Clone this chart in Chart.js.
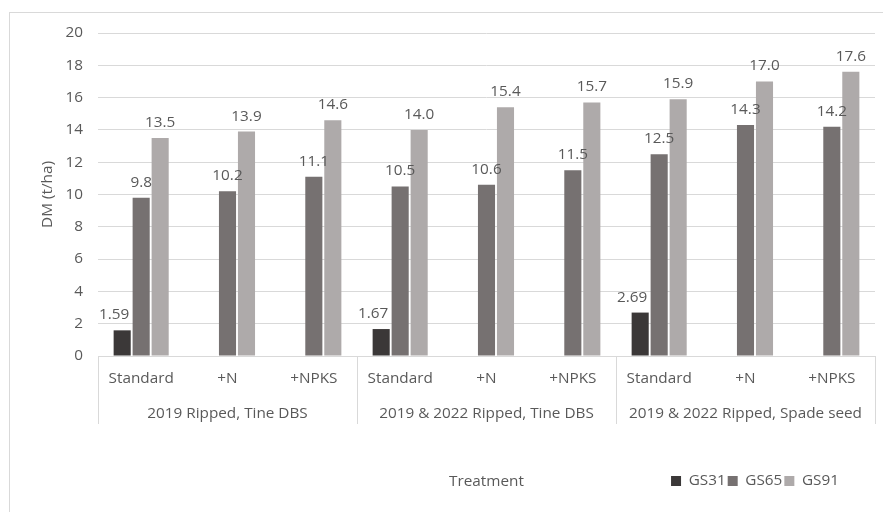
<!DOCTYPE html>
<html>
<head>
<meta charset="utf-8">
<script src="https://cdn.jsdelivr.net/npm/chart.js@4/dist/chart.umd.min.js"></script>
<style>
  html, body { margin: 0; padding: 0; background: #ffffff; overflow: hidden; }
  #frame { position: absolute; left: 9px; top: 12px; width: 900px; height: 520px; border: 1px solid #d9d9d9; box-sizing: border-box; }
  #wrap { position: absolute; left: 0; top: 0; width: 883px; height: 512px; }
</style>
</head>
<body>
<div id="frame"></div>
<div id="wrap"><canvas id="chart" width="883" height="512"></canvas></div>
<script>
// Treatments within each site group
const treatments = ['Standard', '+N', '+NPKS', 'Standard', '+N', '+NPKS', 'Standard', '+N', '+NPKS'];
const siteGroups = ['2019 Ripped, Tine DBS', '2019 & 2022 Ripped, Tine DBS', '2019 & 2022 Ripped, Spade seed'];

// Dry matter (t/ha) by growth stage
const gs31 = [1.59, null, null, 1.67, null, null, 2.69, null, null];
const gs65 = [9.8, 10.2, 11.1, 10.5, 10.6, 11.5, 12.5, 14.3, 14.2];
const gs91 = [13.5, 13.9, 14.6, 14.0, 15.4, 15.7, 15.9, 17.0, 17.6];

const yTicks = [0, 2, 4, 6, 8, 10, 12, 14, 16, 18, 20];

const FONT = 'Open Sans';
const FS = 15.3;
const TEXT = '#595959';
const GRID = '#d9d9d9';
const font = () => ({ family: FONT, size: FS });

// Value labels above each bar
const valueLabels = {
  id: 'valueLabels',
  afterDatasetsDraw(chart) {
    const ctx = chart.ctx;
    ctx.save();
    ctx.font = FS + 'px "' + FONT + '"';
    ctx.fillStyle = TEXT;
    ctx.textAlign = 'center';
    ctx.textBaseline = 'alphabetic';
    chart.data.datasets.forEach((ds, di) => {
      const meta = chart.getDatasetMeta(di);
      meta.data.forEach((bar, i) => {
        const v = ds.data[i];
        if (v === null || v === undefined) return;
        ctx.fillText(v.toFixed(ds.decimals), bar.x + (ds.labelShift || 0), bar.y - 11);
      });
    });
    ctx.restore();
  }
};

// Vertical rules between site groups, spanning both label rows
const groupRules = {
  id: 'groupRules',
  afterDraw(chart) {
    const x = chart.scales.x, xg = chart.scales.xg;
    const ctx = chart.ctx;
    const y0 = chart.chartArea.bottom;
    const y1 = xg.top + 22;
    ctx.save();
    ctx.strokeStyle = GRID;
    ctx.lineWidth = 1;
    for (let g = 0; g <= siteGroups.length; g++) {
      const px = Math.round(x.getPixelForValue(g * 3 - 0.5) - 0.5) + 0.5;
      ctx.beginPath();
      ctx.moveTo(px, y0);
      ctx.lineTo(px, y1);
      ctx.stroke();
    }
    ctx.restore();
  }
};

// Legend sits on the axis-title row, right of the title
const legendNudge = {
  id: 'legendNudge',
  afterLayout(chart) {
    const lg = chart.legend;
    if (lg) { lg.left -= 34; lg.right -= 34; }
  }
};

new Chart(document.getElementById('chart'), {
  type: 'bar',
  data: {
    labels: treatments,
    datasets: [
      { label: 'GS31', data: gs31, backgroundColor: '#3b3838', decimals: 2, labelShift: -8 },
      { label: 'GS65', data: gs65, backgroundColor: '#767171', decimals: 1 },
      { label: 'GS91', data: gs91, backgroundColor: '#aeaaaa', decimals: 1 }
    ]
  },
  options: {
    responsive: false,
    animation: false,
    devicePixelRatio: 1,
    datasets: { bar: { categoryPercentage: 0.66, barPercentage: 0.9 } },
    layout: { padding: { top: 33, right: 8, left: 20, bottom: 13.35 } },
    plugins: {
      legend: {
        position: 'bottom',
        align: 'end',
        labels: { boxWidth: 10, boxHeight: 10, padding: 2, color: TEXT, font: font() }
      },
      tooltip: { enabled: false }
    },
    scales: {
      y: {
        min: 0, max: 20,
        afterBuildTicks(scale) { scale.ticks = yTicks.map(v => ({ value: v })); },
        afterFit(scale) { scale.width = 78; },
        grid: { color: GRID, drawTicks: false },
        border: { display: false },
        ticks: { color: TEXT, font: font(), padding: 15 },
        title: {
          display: true, text: 'DM (t/ha)', color: TEXT,
          font: font(), padding: { top: 18.3, bottom: 0 }
        }
      },
      x: {
        position: 'bottom',
        grid: { display: false, drawTicks: false },
        border: { display: true, color: GRID },
        ticks: { color: TEXT, font: font(), padding: 13.82, maxRotation: 0, autoSkip: false }
      },
      xg: {
        type: 'category',
        position: 'bottom',
        labels: siteGroups,
        grid: { display: false, drawTicks: false },
        border: { display: false },
        ticks: { color: TEXT, font: font(), padding: 2.82, maxRotation: 0, autoSkip: false },
        title: {
          display: true, text: 'Treatment', color: TEXT,
          font: font(), padding: { top: 46.8, bottom: -19.83 }
        }
      }
    }
  },
  plugins: [valueLabels, groupRules, legendNudge]
});
</script>
</body>
</html>
